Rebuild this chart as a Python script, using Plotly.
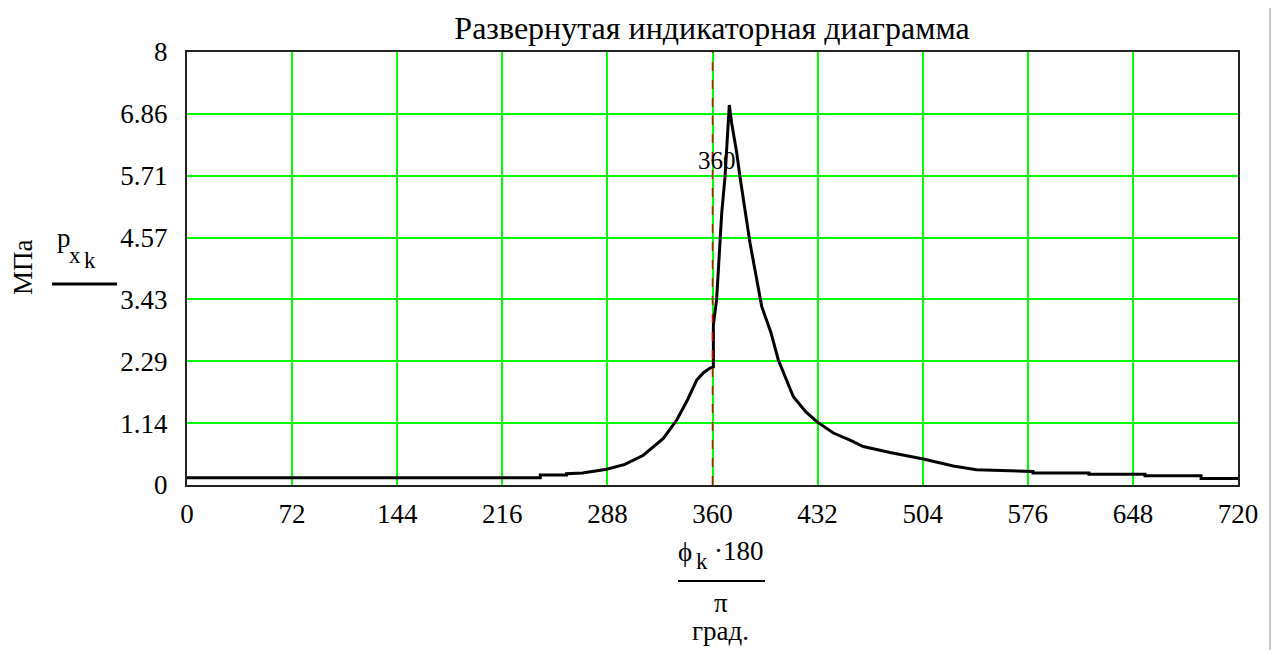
import plotly.graph_objects as go

# ---- data ----
phi_deg = [0, 242, 242, 260, 260, 271, 287.5, 300, 312.6, 326.3, 335.5, 343, 349.2, 354, 358.3,
           360.6, 360.6, 362.8, 366.3, 368.6, 371.5, 373.1, 376.6, 378.8, 385.7, 393.7, 400.1,
           405.1, 415.4, 424, 431.4, 442.8, 454.2, 463.3, 481.6, 504.4, 524.9, 540.9,
           579.6, 579.6, 617.9, 617.9, 656.3, 656.3, 694.7, 694.7, 720]
p_mpa = [0.135, 0.135, 0.185, 0.185, 0.21, 0.22, 0.29, 0.38, 0.55, 0.86, 1.20, 1.58, 1.94, 2.08, 2.16,
         2.18, 2.96, 3.42, 5.02, 5.70, 7.02, 6.69, 6.14, 5.70, 4.47, 3.30, 2.81,
         2.31, 1.63, 1.35, 1.17, 0.96, 0.83, 0.71, 0.60, 0.48, 0.35, 0.28,
         0.25, 0.22, 0.22, 0.20, 0.20, 0.17, 0.17, 0.12, 0.12]

x_ticks = [0, 72, 144, 216, 288, 360, 432, 504, 576, 648, 720]
y_tickvals = [0, 8 / 7, 16 / 7, 24 / 7, 32 / 7, 40 / 7, 48 / 7, 8]
y_ticktext = ["0", "1.14", "2.29", "3.43", "4.57", "5.71", "6.86", "8"]
marker_x = 360
marker_label = "360"
title_text = "Развернутая индикаторная диаграмма"

FONT = '"Liberation Serif", "DejaVu Serif", "Noto Serif", serif'
OFF = 8  # page body margin of the browser
W, H = 1280 - OFF, 650 - OFF
L, R, T, B = 187, 1238, 52, 485  # plot area pixel bounds in the reference


def px(x):
    return (x - L) / (R - L)


def py(y):
    return (B - y) / (B - T)


fig = go.Figure()
fig.add_trace(go.Scatter(x=phi_deg, y=p_mpa, mode="lines",
                         line=dict(color="black", width=3), showlegend=False,
                         hoverinfo="skip"))

fig.add_shape(type="line", xref="x", yref="y", x0=marker_x, x1=marker_x, y0=0, y1=8,
              line=dict(color="#e00000", width=1.5, dash="dash"))
fig.add_annotation(x=marker_x, y=6.0, xref="x", yref="y", text=marker_label, showarrow=False,
                   xshift=4, xanchor="center", yanchor="middle",
                   font=dict(family=FONT, size=25, color="black"))

# window border on the right
fig.add_shape(type="line", xref="paper", yref="paper", x0=px(1270), x1=px(1270),
              y0=py(7), y1=py(650), line=dict(color="#c8c8c8", width=2))

ann_font = dict(family=FONT, size=27, color="black")
sub_font = dict(family=FONT, size=23, color="black")


def label(x, y, text, font, angle=0):
    fig.add_annotation(xref="paper", yref="paper", x=px(x), y=py(y), text=text, textangle=angle,
                       showarrow=False, xanchor="center", yanchor="middle", font=font)


# y axis label (Mathcad style)
label(23, 267, "МПа", ann_font, -90)
label(64, 238, "p", ann_font)
label(75, 255, "x", sub_font)
label(90, 260, "k", sub_font)
fig.add_shape(type="line", xref="paper", yref="paper", x0=px(52), x1=px(117), y0=py(284),
              y1=py(284), line=dict(color="black", width=3))

# x axis label (Mathcad style)
label(685, 552, "ϕ", ann_font)
label(702, 561, "k", sub_font)
label(739, 551, "·180", ann_font)
fig.add_shape(type="line", xref="paper", yref="paper", x0=px(678), x1=px(765), y0=py(581),
              y1=py(581), line=dict(color="black", width=2))
label(721, 603, "π", ann_font)
label(720, 631, "град.", ann_font)

fig.update_layout(
    width=W, height=H,
    margin=dict(l=L - OFF, r=W - (R - OFF), t=T - OFF, b=H - (B - OFF)),
    paper_bgcolor="white", plot_bgcolor="white",
    font=dict(family=FONT, size=27, color="black"),
    title=dict(text=title_text, x=(712 - OFF) / W, xanchor="center", xref="container",
               y=1 - (28 - OFF) / H, yanchor="middle",
               font=dict(family=FONT, size=32, color="black")),
    showlegend=False,
)
fig.update_xaxes(range=[0, 720], tickvals=x_ticks, ticktext=[str(v) for v in x_ticks],
                 showgrid=True, gridcolor="#00ff00", gridwidth=2, zeroline=False,
                 showline=True, linecolor="#222222", linewidth=2, mirror=True,
                 ticks="", tickfont=dict(family=FONT, size=27), ticklabelstandoff=4)
fig.update_yaxes(range=[0, 8], tickvals=y_tickvals, ticktext=y_ticktext,
                 showgrid=True, gridcolor="#00ff00", gridwidth=2, zeroline=False,
                 showline=True, linecolor="#222222", linewidth=2, mirror=True,
                 ticks="", tickfont=dict(family=FONT, size=27), ticklabelstandoff=12)

fig.write_html("out.html")
